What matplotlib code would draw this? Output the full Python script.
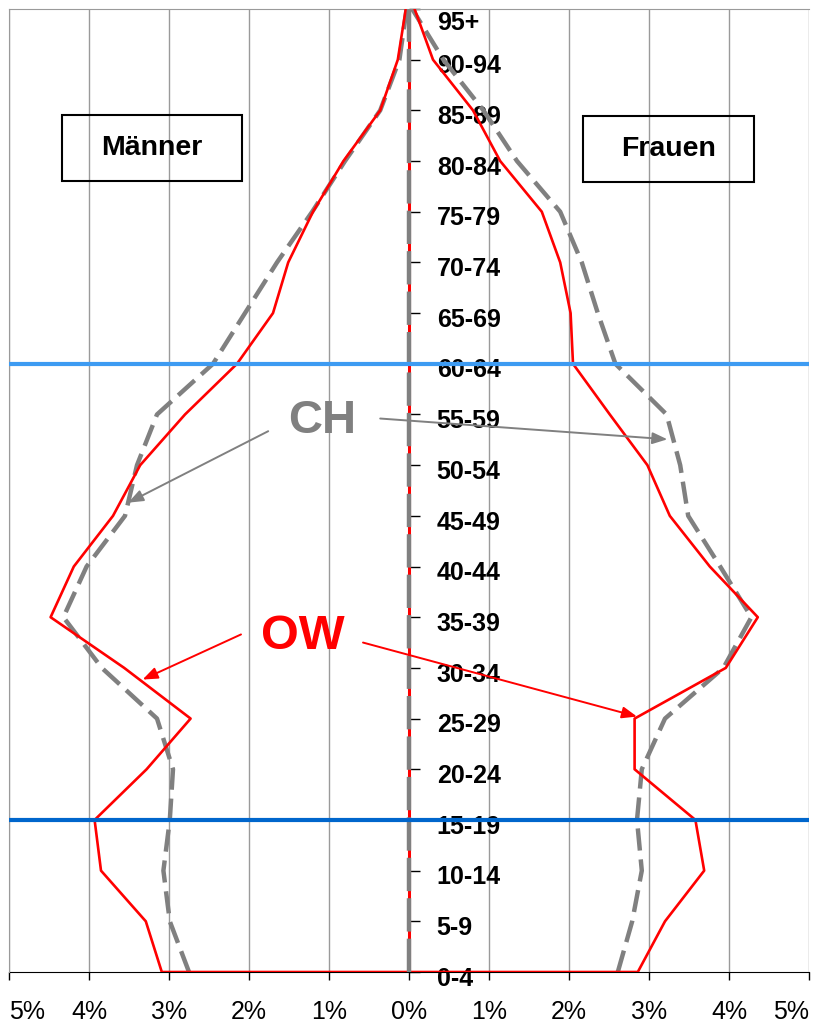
import numpy as np
import matplotlib
matplotlib.use("Agg")
from matplotlib import pyplot as plt
from matplotlib.patches import Rectangle
from matplotlib.transforms import ScaledTranslation

plt.rcParams['font.family'] = ['Liberation Sans', 'DejaVu Sans']

# Altersklassen (unten nach oben)
ages = ['0-4', '5-9', '10-14', '15-19', '20-24', '25-29', '30-34', '35-39',
        '40-44', '45-49', '50-54', '55-59', '60-64', '65-69', '70-74',
        '75-79', '80-84', '85-89', '90-94', '95+']

# Anteile in % (OW = rot, CH = grau gestrichelt)
ow_maenner = [3.09, 3.29, 3.85, 3.93, 3.28, 2.73, 3.56, 4.48, 4.19, 3.70,
              3.36, 2.80, 2.15, 1.70, 1.51, 1.20, 0.82, 0.36, 0.14, 0.04]
ow_frauen = [2.86, 3.20, 3.69, 3.58, 2.82, 2.82, 3.96, 4.36, 3.76, 3.26,
             2.98, 2.51, 2.05, 2.02, 1.89, 1.66, 1.14, 0.80, 0.30, 0.07]
ch_maenner = [2.75, 2.99, 3.07, 2.99, 2.95, 3.15, 3.84, 4.32, 4.03, 3.55,
              3.40, 3.15, 2.45, 2.05, 1.65, 1.21, 0.80, 0.36, 0.12, 0.03]
ch_frauen = [2.61, 2.79, 2.91, 2.85, 2.91, 3.20, 3.93, 4.28, 3.89, 3.49,
             3.39, 3.22, 2.58, 2.36, 2.16, 1.89, 1.35, 0.93, 0.43, 0.04]

xticks = [-5, -4, -3, -2, -1, 0, 1, 2, 3, 4, 5]
xlabels = ['5%', '4%', '3%', '2%', '1%', '0%', '1%', '2%', '3%', '4%', '5%']

pos = np.arange(len(ages))
yy = np.concatenate([pos[::-1], pos])
x_ow = np.concatenate([-np.array(ow_maenner)[::-1], ow_frauen])

fig = plt.figure(figsize=(8.2, 10.29), dpi=100)
ax = fig.add_axes([9/820, 57/1029, 800/820, 963/1029])
ax.set_xlim(-5, 5)
ax.set_ylim(0, 19)

# Gitter
for xv in xticks:
    ax.axvline(xv, color='#9a9a9a', lw=1.0, zorder=1)

ax.plot(-np.array(ch_maenner), pos, color='#808080', lw=3.2, dashes=(5, 2), zorder=3)
ax.plot(ch_frauen, pos, color='#808080', lw=3.2, dashes=(5, 2), zorder=3)
ax.plot(x_ow, yy, color='red', lw=1.9, zorder=4)

# Mittellinie
ax.axvline(0, color='red', lw=2.2, zorder=5)
ax.axvline(0, color='#808080', lw=3.2, dashes=(7.5, 1.6), zorder=6)

# Horizontale Linien
ax.axhline(ages.index('60-64'), color='#3d9bf2', lw=3, zorder=8)
ax.axhline(ages.index('15-19'), color='#0066cc', lw=3, zorder=8)

# Achsen
for s in ['top', 'left']:
    ax.spines[s].set_color('#9a9a9a')
ax.spines['right'].set_position(('data', 0))
ax.spines['right'].set_color('none')
ax.spines['bottom'].set_color('black')
ax.spines['bottom'].set_zorder(2)
ax.yaxis.tick_right()
ax.set_yticks(pos)
ax.set_yticklabels(ages, fontsize=18, fontweight='bold')
ax.tick_params(axis='y', direction='out', length=8, width=1, pad=12, colors='black')
ylabs = ax.get_yticklabels()
for i, lab in enumerate(ylabs):
    dy = -8 if i == len(ylabs) - 1 else -3
    lab.set_transform(lab.get_transform() + ScaledTranslation(0, dy / 72, fig.dpi_scale_trans))
ax.set_xticks(xticks)
ax.set_xticklabels(xlabels, fontsize=18)
ax.tick_params(axis='x', direction='out', length=6, width=1, pad=14)
xl = ax.get_xticklabels()
xl[0].set_horizontalalignment('left')
xl[-1].set_horizontalalignment('right')

# Boxen
ax.add_patch(Rectangle((-4.34, 15.6), 2.25, 1.31, fill=False, ec='black', lw=1.5, zorder=7))
ax.text(-3.215, 16.255, 'Männer', ha='center', va='center', fontsize=20.5, fontweight='bold', zorder=7)
ax.add_patch(Rectangle((2.175, 15.58), 2.135, 1.31, fill=False, ec='black', lw=1.5, zorder=7))
ax.text(3.24, 16.235, 'Frauen', ha='center', va='center', fontsize=20.5, fontweight='bold', zorder=7)

# Beschriftungen mit Pfeilen
ax.text(-1.09, 10.88, 'CH', color='#808080', fontsize=34, fontweight='bold',
        ha='center', va='center', zorder=9)
ax.text(-1.33, 6.62, 'OW', color='red', fontsize=35, fontweight='bold',
        ha='center', va='center', zorder=9)
gray_arrow = dict(arrowstyle='-|>,head_length=0.9,head_width=0.35', color='#808080', lw=1.4,
                  shrinkA=0, shrinkB=0)
red_arrow = dict(arrowstyle='-|>,head_length=0.9,head_width=0.35', color='red', lw=1.4,
                 shrinkA=0, shrinkB=0)
ax.annotate('', xy=(-3.51, 9.26), xytext=(-1.76, 10.67), arrowprops=gray_arrow, zorder=9)
ax.annotate('', xy=(3.23, 10.51), xytext=(-0.36, 10.92), arrowprops=gray_arrow, zorder=9)
ax.annotate('', xy=(-3.33, 5.77), xytext=(-2.10, 6.66), arrowprops=red_arrow, zorder=9)
ax.annotate('', xy=(2.85, 5.04), xytext=(-0.575, 6.50), arrowprops=red_arrow, zorder=9)

fig.savefig('out.png', dpi=100)
